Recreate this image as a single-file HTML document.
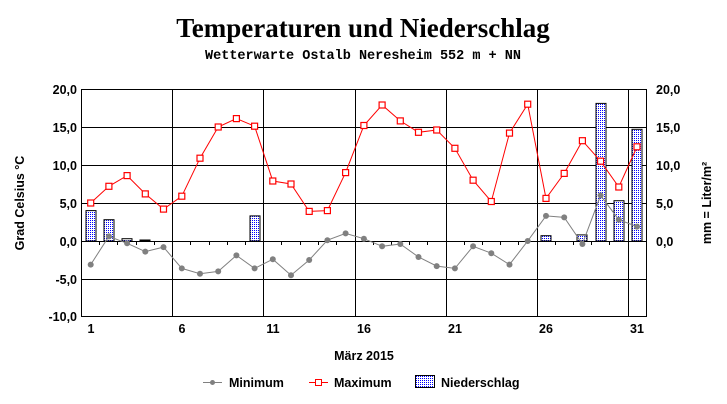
<!DOCTYPE html>
<html><head><meta charset="utf-8"><style>
html,body{margin:0;padding:0;background:#fff;}
svg{display:block;}
text{font-family:"Liberation Sans",Arial,sans-serif;font-weight:bold;}
</style></head><body>
<svg width="727" height="404" viewBox="0 0 727 404" xmlns="http://www.w3.org/2000/svg">
<defs>
<pattern id="dots" width="2" height="2" patternUnits="userSpaceOnUse">
<rect width="2" height="2" fill="#fff"/><rect width="1" height="1" fill="#0000ff"/>
</pattern>
</defs>
<text x="363" y="37" text-anchor="middle" style="font-family:'Liberation Serif',serif" font-size="27">Temperaturen und  Niederschlag</text>
<text x="363" y="59" text-anchor="middle" style="font-family:'Liberation Mono',monospace" font-size="13.5">Wetterwarte Ostalb Neresheim 552 m + NN</text>
<g stroke="#000" stroke-width="1">
<line x1="81" y1="89.5" x2="647" y2="89.5"/>
<line x1="81" y1="127.5" x2="647" y2="127.5"/>
<line x1="81" y1="165.5" x2="647" y2="165.5"/>
<line x1="81" y1="203.5" x2="647" y2="203.5"/>
<line x1="81" y1="241.5" x2="647" y2="241.5"/>
<line x1="81" y1="279.5" x2="647" y2="279.5"/>
<line x1="81" y1="316.5" x2="647" y2="316.5"/>
<line x1="81.5" y1="89" x2="81.5" y2="317"/>
<line x1="646.5" y1="89" x2="646.5" y2="317"/>
<line x1="172.5" y1="89" x2="172.5" y2="317"/>
<line x1="263.5" y1="89" x2="263.5" y2="317"/>
<line x1="355.5" y1="89" x2="355.5" y2="317"/>
<line x1="446.5" y1="89" x2="446.5" y2="317"/>
<line x1="537.5" y1="89" x2="537.5" y2="317"/>
<line x1="628.5" y1="89" x2="628.5" y2="317"/>
</g>
<g stroke="#000" stroke-width="1">
<line x1="99.5" y1="241" x2="99.5" y2="245"/><line x1="117.5" y1="241" x2="117.5" y2="245"/><line x1="136.5" y1="241" x2="136.5" y2="245"/><line x1="154.5" y1="241" x2="154.5" y2="245"/>
<line x1="190.5" y1="241" x2="190.5" y2="245"/><line x1="209.5" y1="241" x2="209.5" y2="245"/><line x1="227.5" y1="241" x2="227.5" y2="245"/><line x1="245.5" y1="241" x2="245.5" y2="245"/>
<line x1="281.5" y1="241" x2="281.5" y2="245"/><line x1="300.5" y1="241" x2="300.5" y2="245"/><line x1="318.5" y1="241" x2="318.5" y2="245"/><line x1="336.5" y1="241" x2="336.5" y2="245"/>
<line x1="373.5" y1="241" x2="373.5" y2="245"/><line x1="391.5" y1="241" x2="391.5" y2="245"/><line x1="409.5" y1="241" x2="409.5" y2="245"/><line x1="427.5" y1="241" x2="427.5" y2="245"/>
<line x1="464.5" y1="241" x2="464.5" y2="245"/><line x1="482.5" y1="241" x2="482.5" y2="245"/><line x1="500.5" y1="241" x2="500.5" y2="245"/><line x1="518.5" y1="241" x2="518.5" y2="245"/>
<line x1="555.5" y1="241" x2="555.5" y2="245"/><line x1="573.5" y1="241" x2="573.5" y2="245"/><line x1="591.5" y1="241" x2="591.5" y2="245"/><line x1="609.5" y1="241" x2="609.5" y2="245"/>
</g>
<g fill="url(#dots)" stroke="#000" stroke-width="1">
<rect x="86" y="210.6" width="10" height="30.4"/>
<rect x="104" y="219.7" width="10" height="21.3"/>
<rect x="122" y="238.7" width="10" height="2.3"/>
<rect x="140" y="240" width="10" height="1"/>
<rect x="250" y="215.9" width="10" height="25.1"/>
<rect x="541" y="235.7" width="10" height="5.3"/>
<rect x="577" y="234.9" width="10" height="6.1"/>
<rect x="596" y="103.4" width="10" height="137.6"/>
<rect x="614" y="200.7" width="10" height="40.3"/>
<rect x="632" y="129.3" width="10" height="111.7"/>
</g>
<polyline fill="none" stroke="#808080" stroke-width="1" points="90.7,264.6 108.9,236.4 127.1,243.3 145.3,251.6 163.5,247.1 181.8,268.4 200,273.7 218.2,271.4 236.4,255.4 254.6,268.4 272.8,259.2 291,275.2 309.2,260 327.4,240.2 345.6,233.4 363.9,238.7 382.1,246.3 400.3,244 418.5,257 436.7,266.1 454.9,268.4 473.1,246.3 491.3,253.2 509.5,264.6 527.7,241 546,215.9 564.2,217.4 582.4,244 600.6,195.4 618.8,219.7 637,226.6"/>
<g fill="#808080">
<circle cx="90.7" cy="264.6" r="3"/><circle cx="108.9" cy="236.4" r="3"/><circle cx="127.1" cy="243.3" r="3"/><circle cx="145.3" cy="251.6" r="3"/><circle cx="163.5" cy="247.1" r="3"/><circle cx="181.8" cy="268.4" r="3"/><circle cx="200" cy="273.7" r="3"/><circle cx="218.2" cy="271.4" r="3"/><circle cx="236.4" cy="255.4" r="3"/><circle cx="254.6" cy="268.4" r="3"/><circle cx="272.8" cy="259.2" r="3"/><circle cx="291" cy="275.2" r="3"/><circle cx="309.2" cy="260" r="3"/><circle cx="327.4" cy="240.2" r="3"/><circle cx="345.6" cy="233.4" r="3"/><circle cx="363.9" cy="238.7" r="3"/><circle cx="382.1" cy="246.3" r="3"/><circle cx="400.3" cy="244" r="3"/><circle cx="418.5" cy="257" r="3"/><circle cx="436.7" cy="266.1" r="3"/><circle cx="454.9" cy="268.4" r="3"/><circle cx="473.1" cy="246.3" r="3"/><circle cx="491.3" cy="253.2" r="3"/><circle cx="509.5" cy="264.6" r="3"/><circle cx="527.7" cy="241" r="3"/><circle cx="546" cy="215.9" r="3"/><circle cx="564.2" cy="217.4" r="3"/><circle cx="582.4" cy="244" r="3"/><circle cx="600.6" cy="195.4" r="3"/><circle cx="618.8" cy="219.7" r="3"/><circle cx="637" cy="226.6" r="3"/>
</g>
<polyline fill="none" stroke="#ff0000" stroke-width="1" points="90.7,203 108.9,186.3 127.1,175.6 145.3,193.9 163.5,209.1 181.8,196.2 200,158.2 218.2,127 236.4,118.6 254.6,126.2 272.8,181 291,184 309.2,211.4 327.4,210.6 345.6,172.6 363.9,125.5 382.1,105 400.3,120.9 418.5,132.3 436.7,130 454.9,148.3 473.1,180.2 491.3,201.5 509.5,133.1 527.7,104.2 546,198.4 564.2,173.4 582.4,140.7 600.6,161.2 618.8,187 637,146.8"/>
<g fill="#fff" stroke="#ff0000" stroke-width="1.2">
<rect x="87.7" y="200" width="6" height="6"/><rect x="105.9" y="183.3" width="6" height="6"/><rect x="124.1" y="172.6" width="6" height="6"/><rect x="142.3" y="190.9" width="6" height="6"/><rect x="160.5" y="206.1" width="6" height="6"/><rect x="178.8" y="193.2" width="6" height="6"/><rect x="197" y="155.2" width="6" height="6"/><rect x="215.2" y="124" width="6" height="6"/><rect x="233.4" y="115.6" width="6" height="6"/><rect x="251.6" y="123.2" width="6" height="6"/><rect x="269.8" y="178" width="6" height="6"/><rect x="288" y="181" width="6" height="6"/><rect x="306.2" y="208.4" width="6" height="6"/><rect x="324.4" y="207.6" width="6" height="6"/><rect x="342.6" y="169.6" width="6" height="6"/><rect x="360.9" y="122.5" width="6" height="6"/><rect x="379.1" y="102" width="6" height="6"/><rect x="397.3" y="117.9" width="6" height="6"/><rect x="415.5" y="129.3" width="6" height="6"/><rect x="433.7" y="127" width="6" height="6"/><rect x="451.9" y="145.3" width="6" height="6"/><rect x="470.1" y="177.2" width="6" height="6"/><rect x="488.3" y="198.5" width="6" height="6"/><rect x="506.5" y="130.1" width="6" height="6"/><rect x="524.7" y="101.2" width="6" height="6"/><rect x="543" y="195.4" width="6" height="6"/><rect x="561.2" y="170.4" width="6" height="6"/><rect x="579.4" y="137.7" width="6" height="6"/><rect x="597.6" y="158.2" width="6" height="6"/><rect x="615.8" y="184" width="6" height="6"/><rect x="634" y="143.8" width="6" height="6"/>
</g>
<g font-size="12.5" text-anchor="end">
<text x="77" y="94">20,0</text><text x="77" y="132">15,0</text><text x="77" y="170">10,0</text><text x="77" y="208">5,0</text><text x="77" y="246">0,0</text><text x="77" y="284">-5,0</text><text x="77" y="321">-10,0</text>
</g>
<g font-size="12.5" text-anchor="start">
<text x="656" y="94">20,0</text><text x="656" y="132">15,0</text><text x="656" y="170">10,0</text><text x="656" y="208">5,0</text><text x="656" y="246">0,0</text>
</g>
<g font-size="12.5" text-anchor="middle">
<text x="91" y="333">1</text><text x="182" y="333">6</text><text x="273" y="333">11</text><text x="364" y="333">16</text><text x="455" y="333">21</text><text x="546" y="333">26</text><text x="637" y="333">31</text>
</g>
<text x="364" y="360" font-size="12.5" text-anchor="middle">März 2015</text>
<text transform="translate(24,203) rotate(-90)" font-size="12.5" text-anchor="middle">Grad Celsius °C</text>
<text transform="translate(711,203) rotate(-90)" font-size="12.5" text-anchor="middle">mm = Liter/m²</text>
<line x1="203" y1="382.5" x2="222" y2="382.5" stroke="#808080"/><circle cx="212.5" cy="382.5" r="2.5" fill="#808080"/>
<text x="229" y="387" font-size="12.5">Minimum</text>
<line x1="309" y1="382.5" x2="328" y2="382.5" stroke="#ff0000"/><rect x="315.5" y="379.5" width="6" height="6" fill="#fff" stroke="#ff0000"/>
<text x="334" y="387" font-size="12.5">Maximum</text>
<rect x="415.5" y="375.5" width="19" height="12" fill="url(#dots)" stroke="#000"/>
<text x="441" y="387" font-size="12.5">Niederschlag</text>
</svg>
</body></html>
